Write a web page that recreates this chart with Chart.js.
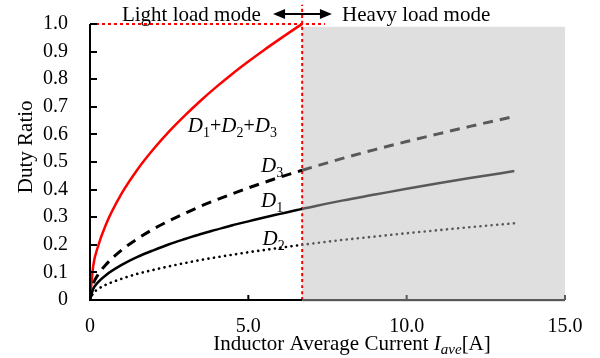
<!DOCTYPE html>
<html>
<head>
<meta charset="utf-8">
<script src="https://cdn.jsdelivr.net/npm/chart.js@4.4.0/dist/chart.umd.min.js"></script>
<style>
  html, body { margin: 0; padding: 0; background: #fff; }
  #wrap { width: 600px; height: 358px; }
</style>
</head>
<body>
<div id="wrap"><canvas id="chart" width="600" height="358"></canvas></div>
<script>
// Light load mode (0 .. 6.7 A)
const xLight   = [0, 0.1, 0.25, 0.5, 1, 1.5, 2, 2.5, 3, 3.5, 4, 4.5, 5, 5.5, 6, 6.5, 6.7];
const sumLight = [0, 0.122, 0.193, 0.273, 0.386, 0.473, 0.546, 0.611, 0.669, 0.723, 0.773, 0.820, 0.864, 0.906, 0.946, 0.985, 1.0];
const d1Light  = [0, 0.040, 0.064, 0.090, 0.127, 0.156, 0.180, 0.202, 0.221, 0.239, 0.255, 0.271, 0.285, 0.299, 0.312, 0.325, 0.33];
const d2Light  = [0, 0.024, 0.039, 0.055, 0.077, 0.095, 0.109, 0.122, 0.134, 0.145, 0.155, 0.164, 0.173, 0.181, 0.189, 0.197, 0.2];
const d3Light  = [0, 0.057, 0.091, 0.128, 0.181, 0.222, 0.257, 0.287, 0.314, 0.340, 0.363, 0.385, 0.406, 0.426, 0.445, 0.463, 0.47];

// Heavy load mode (6.7 .. 13.4 A)
const xHeavy  = [6.7, 8, 9, 10, 11, 12, 13.4];
const d1Heavy = [0.33, 0.361, 0.382, 0.403, 0.423, 0.442, 0.467];
const d2Heavy = [0.2, 0.218, 0.230, 0.242, 0.253, 0.264, 0.278];
const d3Heavy = [0.47, 0.514, 0.545, 0.574, 0.602, 0.629, 0.665];

// boundary between modes
const modeLimit = 6.7;
const xTicks = [0, 5, 10, 15];
const yTicks = [0, 0.1, 0.2, 0.3, 0.4, 0.5, 0.6, 0.7, 0.8, 0.9, 1.0];

// curve labels: [parts, x, y]  (parts: [text, kind])
const curveLabels = [
  [[['D',0],['1',1],['+',2],['D',0],['2',1],['+',2],['D',0],['3',1]], 3.09, 0.61],
  [[['D',0],['3',1]], 5.4, 0.465],
  [[['D',0],['1',1]], 5.4, 0.338],
  [[['D',0],['2',1]], 5.45, 0.2]
];

const pts = (xs, ys) => xs.map((x, i) => ({x: x, y: ys[i]}));
const SERIF = '"Liberation Serif", "Times New Roman", serif';
const GRAY = '#595959';

const deco = {
  id: 'deco',
  beforeDatasetsDraw(chart) {
    const {ctx, scales: {x, y}} = chart;
    ctx.save();
    ctx.fillStyle = '#dfdfdf';
    const l = x.getPixelForValue(modeLimit), r = x.getPixelForValue(15);
    const t = y.getPixelForValue(0.99), b = y.getPixelForValue(0) + 2;
    ctx.fillRect(l, t, r - l, b - t);
    ctx.restore();
  },
  afterDatasetsDraw(chart) {
    const {ctx, scales: {x, y}} = chart;
    const x0 = x.getPixelForValue(0), xm = x.getPixelForValue(modeLimit), x15 = x.getPixelForValue(15);
    const y0 = y.getPixelForValue(0), y1 = y.getPixelForValue(1);
    ctx.save();
    ctx.lineWidth = 2;
    // left axis
    ctx.strokeStyle = '#000';
    ctx.beginPath(); ctx.moveTo(x0, y1); ctx.lineTo(x0, y0 + 1); ctx.stroke();
    yTicks.forEach(v => {
      const py = Math.round(y.getPixelForValue(v));
      ctx.beginPath(); ctx.moveTo(x0, py); ctx.lineTo(x0 + 7, py); ctx.stroke();
    });
    // bottom axis, black then gray
    ctx.beginPath(); ctx.moveTo(x0 - 1, y0); ctx.lineTo(xm, y0); ctx.stroke();
    ctx.beginPath(); ctx.moveTo(x.getPixelForValue(5), y0); ctx.lineTo(x.getPixelForValue(5), y0 - 5); ctx.stroke();
    ctx.strokeStyle = GRAY;
    ctx.beginPath(); ctx.moveTo(xm, y0); ctx.lineTo(x15, y0); ctx.stroke();
    [10, 15].forEach(v => {
      const px = x.getPixelForValue(v);
      ctx.beginPath(); ctx.moveTo(px, y0); ctx.lineTo(px, y0 - 5); ctx.stroke();
    });

    // arrow
    const ay = y.getPixelForValue(1.036);
    const al = x.getPixelForValue(5.78), ar = x.getPixelForValue(7.64);
    ctx.strokeStyle = '#000'; ctx.fillStyle = '#000'; ctx.lineWidth = 2;
    ctx.beginPath(); ctx.moveTo(al + 8, ay); ctx.lineTo(ar - 8, ay); ctx.stroke();
    ctx.beginPath(); ctx.moveTo(al, ay); ctx.lineTo(al + 12, ay - 5); ctx.lineTo(al + 12, ay + 5); ctx.closePath(); ctx.fill();
    ctx.beginPath(); ctx.moveTo(ar, ay); ctx.lineTo(ar - 12, ay - 5); ctx.lineTo(ar - 12, ay + 5); ctx.closePath(); ctx.fill();

    // mode titles
    ctx.font = '21px ' + SERIF;
    ctx.textBaseline = 'alphabetic';
    ctx.textAlign = 'center';
    ctx.fillText('Light load mode', x.getPixelForValue(3.2), 21);
    ctx.fillText('Heavy load mode', x.getPixelForValue(10.3), 21);

    // y axis title
    ctx.save();
    ctx.translate(32, y.getPixelForValue(0.555));
    ctx.rotate(-Math.PI / 2);
    ctx.fillText('Duty Ratio', 0, 0);
    ctx.restore();

    // x axis title with italic subscript
    const parts = [['Inductor Average Current ', '21px ' + SERIF, 0], ['I', 'italic 21px ' + SERIF, 0],
                   ['ave', 'italic 15px ' + SERIF, 4], ['[A]', '21px ' + SERIF, 0]];
    let w = 0;
    parts.forEach(p => { ctx.font = p[1]; w += ctx.measureText(p[0]).width; });
    let cx = 352 - w / 2;
    ctx.textAlign = 'left';
    parts.forEach(p => { ctx.font = p[1]; ctx.fillText(p[0], cx, 350 + p[2]); cx += ctx.measureText(p[0]).width; });

    // curve labels
    curveLabels.forEach(([segs, lx, ly]) => {
      let px = x.getPixelForValue(lx);
      const py = y.getPixelForValue(ly);
      segs.forEach(([txt, kind]) => {
        if (kind === 1) { ctx.font = '14px ' + SERIF; ctx.fillText(txt, px, py + 5); }
        else if (kind === 2) { ctx.font = '20px ' + SERIF; ctx.fillText(txt, px, py); }
        else { ctx.font = 'italic 21px ' + SERIF; ctx.fillText(txt, px, py); }
        px += ctx.measureText(txt).width;
      });
    });
    ctx.restore();
  }
};

const line = (data, color, dash, width) => ({
  data: data, borderColor: color, borderWidth: width || 2.5, borderDash: dash || [],
  borderCapStyle: dash && dash[0] < 1 ? 'round' : 'butt',
  pointRadius: 0, tension: 0.4, cubicInterpolationMode: 'monotone', fill: false
});

const noPad = s => { s.paddingTop = 0; s.paddingBottom = 0; s.paddingLeft = 0; s.paddingRight = 0; };

new Chart(document.getElementById('chart'), {
  type: 'line',
  data: {
    datasets: [
      line(pts(xHeavy, d3Heavy), GRAY, [10, 7], 3),
      line(pts(xHeavy, d1Heavy), GRAY, [], 2.5),
      line(pts(xHeavy, d2Heavy), GRAY, [0.1, 5.5], 2.6),
      line(pts(xLight, d3Light), '#000', [10, 7], 3),
      line(pts(xLight, d1Light), '#000', [], 2.5),
      line(pts(xLight, d2Light), '#000', [0.1, 5.5], 2.6),
      line(pts(xLight, sumLight), '#ff0000', [], 2.5),
      Object.assign(line([{x: 0, y: 1}, {x: 7.42, y: 1}], '#ff0000', [3, 3], 2), {clip: false, tension: 0}),
      Object.assign(line([{x: modeLimit, y: 0}, {x: modeLimit, y: 1.07}], '#ff0000', [3, 3], 2), {clip: false, tension: 0})
    ]
  },
  options: {
    responsive: false,
    animation: false,
    layout: {padding: {left: 0, right: 35, top: 24, bottom: 0}},
    plugins: {legend: {display: false}, tooltip: {enabled: false}},
    scales: {
      x: {
        type: 'linear', min: 0, max: 15,
        afterFit: s => { s.height = 58; noPad(s); },
        afterBuildTicks: s => { s.ticks = xTicks.map(v => ({value: v})); },
        grid: {display: false, drawTicks: false},
        border: {display: false},
        ticks: {color: '#000', padding: 15, maxRotation: 0, autoSkip: false, font: {family: SERIF, size: 20},
                callback: v => v === 0 ? '0' : v.toFixed(1)}
      },
      y: {
        min: 0, max: 1,
        afterFit: s => { s.width = 90; noPad(s); },
        afterBuildTicks: s => { s.ticks = yTicks.map(v => ({value: v})); },
        grid: {display: false, drawTicks: false},
        border: {display: false},
        ticks: {color: '#000', padding: 22, autoSkip: false, font: {family: SERIF, size: 20},
                callback: v => v === 0 ? '0' : v.toFixed(1)}
      }
    }
  },
  plugins: [deco]
});
</script>
</body>
</html>
